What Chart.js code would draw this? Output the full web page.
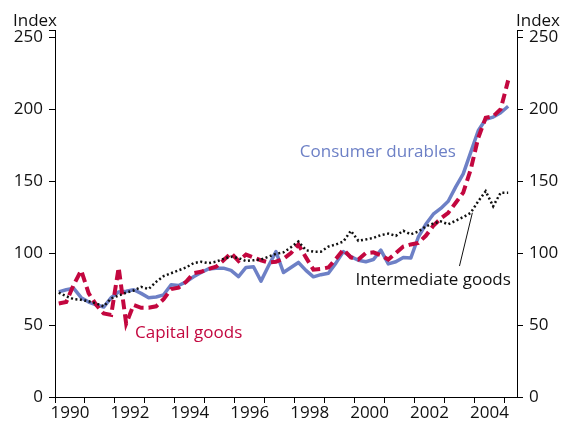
<!DOCTYPE html>
<html><head><meta charset="utf-8">
<script src="https://cdn.jsdelivr.net/npm/chart.js@4.4.1/dist/chart.umd.min.js"></script>
<style>html,body{margin:0;padding:0;background:#fff}#wrap{width:564px;height:423px;position:relative}</style>
</head><body><div id="wrap"><canvas id="c" width="564" height="423"></canvas></div>
<script>
// Quarterly categories 1990 Q1 - 2005 Q1
const quarters = [
 "1990 Q1","1990 Q2","1990 Q3","1990 Q4","1991 Q1","1991 Q2","1991 Q3","1991 Q4",
 "1992 Q1","1992 Q2","1992 Q3","1992 Q4","1993 Q1","1993 Q2","1993 Q3","1993 Q4",
 "1994 Q1","1994 Q2","1994 Q3","1994 Q4","1995 Q1","1995 Q2","1995 Q3","1995 Q4",
 "1996 Q1","1996 Q2","1996 Q3","1996 Q4","1997 Q1","1997 Q2","1997 Q3","1997 Q4",
 "1998 Q1","1998 Q2","1998 Q3","1998 Q4","1999 Q1","1999 Q2","1999 Q3","1999 Q4",
 "2000 Q1","2000 Q2","2000 Q3","2000 Q4","2001 Q1","2001 Q2","2001 Q3","2001 Q4",
 "2002 Q1","2002 Q2","2002 Q3","2002 Q4","2003 Q1","2003 Q2","2003 Q3","2003 Q4",
 "2004 Q1","2004 Q2","2004 Q3","2004 Q4","2005 Q1"
];
const consumerDurables = [
 73,74.5,75.5,69,66,64,62.5,69,73,73.5,
 74.5,72,69,69.5,71,78,77.5,80,83.5,86.5,
 89,89.5,89.5,88,83.7,90,90.5,80.5,91,101,
 86.5,90,93.5,88,83.5,85,86,93,101,97.5,
 95,94,95.5,102,92.5,94,97,96.5,111,120,
 127,131,136,146,155,170,185,193,194.5,197.5,202
];
const capitalGoods = [
 65,66,78,88,72,64,58,57,90,51,
 64,62,62,63,68,75,76,80,86,87,
 89,90.5,95,100,94.5,99,97,95,93.5,94,
 96,100,106,97,88.5,89,90,96,102.5,97,
 95.5,100,100.5,98.5,95.5,100,104.5,106,107,112,
 119,124,128,135,142,158,180,194,195,200,220
];
const intermediateGoods = [
 72.5,70,68,67.5,66.5,65,63,68.5,70.5,72.5,
 74,76.5,75,80,84,86,88,90,93,94,
 93,94,96,97.5,96.5,94.5,95,95.5,97.5,99.5,
 100.5,104,108,102,101,101,104.5,106,108,115.5,
 108.5,109.5,110.5,112.5,113.5,112,115.5,113,115,118.5,
 120.5,122,120,122.5,125,128,136,143,132.5,142,142
];
const yearTicks = [1990,1991,1992,1993,1994,1995,1996,1997,1998,1999,2000,2001,2002,2003,2004,2005];
const yearLabels = {1990:"1990",1992:"1992",1994:"1994",1996:"1996",1998:"1998",2000:"2000",2002:"2002",2004:"2004"};
const valueTicks = [0,50,100,150,200,250];
const axisTop = 255;

function qToX(s){ const [y,q] = s.split(" Q"); return +y + (+q - 0.5)/4; }
function pts(arr){ return arr.map((v,i)=>({x: qToX(quarters[i]), y: v})); }

const FONT = "'Open Sans', 'Noto Sans', sans-serif";
const BLUE = "#6d80c6", RED = "#c3073f", BLACK = "#111111";

const labelsPlugin = {
  id: 'labels',
  afterDraw(chart){
    const ctx = chart.ctx, xs = chart.scales.x, ys = chart.scales.y, a = chart.chartArea;
    ctx.save();
    ctx.font = "17px " + FONT;
    ctx.textBaseline = 'alphabetic';
    ctx.fillStyle = BLACK; ctx.textAlign = 'left';
    ctx.fillText("Index", 13, 26);
    ctx.fillText("Index", a.right - 1, 26);
    const notes = [
      {t:"Consumer durables", x:1998.17, y:166.5, c:BLUE},
      {t:"Capital goods", x:1992.67, y:41, c:RED},
      {t:"Intermediate goods", x:2000.03, y:77.5, c:BLACK}
    ];
    notes.forEach(n=>{ ctx.fillStyle=n.c; ctx.fillText(n.t, xs.getPixelForValue(n.x), ys.getPixelForValue(n.y)); });
    ctx.strokeStyle = BLACK; ctx.lineWidth = 1;
    ctx.beginPath();
    ctx.moveTo(xs.getPixelForValue(2003.5), ys.getPixelForValue(91));
    ctx.lineTo(xs.getPixelForValue(2003.93), ys.getPixelForValue(128));
    ctx.stroke();
    ctx.restore();
  }
};

const yAxis = (pos) => ({
  type:'linear', position: pos, min:0, max: axisTop,
  afterBuildTicks: s => { s.ticks = valueTicks.concat([axisTop]).map(v=>({value:v})); },
  afterFit: s => { s.width = pos === 'left' ? 55 : 47; },
  grid:{drawOnChartArea:false, drawTicks:true, tickLength:6, color:'#000', lineWidth:1},
  border:{display:true, color:'#000', width:1},
  ticks:{padding:6, color:BLACK, font:{family:FONT, size:17}, callback: v => valueTicks.includes(v) ? String(v) : ''}
});

new Chart(document.getElementById('c'), {
  type:'line',
  data:{ datasets:[
    {label:'Intermediate goods', data:pts(intermediateGoods), borderColor:BLACK, borderWidth:2.5, borderDash:[2,2.5], pointRadius:0, tension:0, order:0, yAxisID:'y'},
    {label:'Capital goods', data:pts(capitalGoods), borderColor:RED, borderWidth:4, borderDash:[10,5], pointRadius:0, tension:0, order:1, yAxisID:'y'},
    {label:'Consumer durables', data:pts(consumerDurables), borderColor:BLUE, borderWidth:3.5, pointRadius:0, tension:0, borderJoinStyle:'round', order:2, yAxisID:'y'}
  ]},
  options:{
    responsive:false, animation:false, devicePixelRatio:1,
    layout:{padding:{top:30, left:0, right:0, bottom:0}},
    plugins:{legend:{display:false}, tooltip:{enabled:false}},
    scales:{
      x:{type:'linear', min:1990, max:2005.42,
        afterBuildTicks: s => { s.ticks = yearTicks.map(v=>({value:v})); },
        afterFit: s => { s.height = 26; },
        grid:{drawOnChartArea:false, drawTicks:true, tickLength:6, color:'#000', lineWidth:1},
        border:{display:true, color:'#000', width:1},
        ticks:{padding:0, labelOffset:15, autoSkip:false, maxRotation:0, minRotation:0, color:BLACK, font:{family:FONT, size:17},
          callback: v => yearLabels[v] || ''}
      },
      y: yAxis('left'),
      y2: yAxis('right')
    }
  },
  plugins:[labelsPlugin]
});
</script></body></html>
